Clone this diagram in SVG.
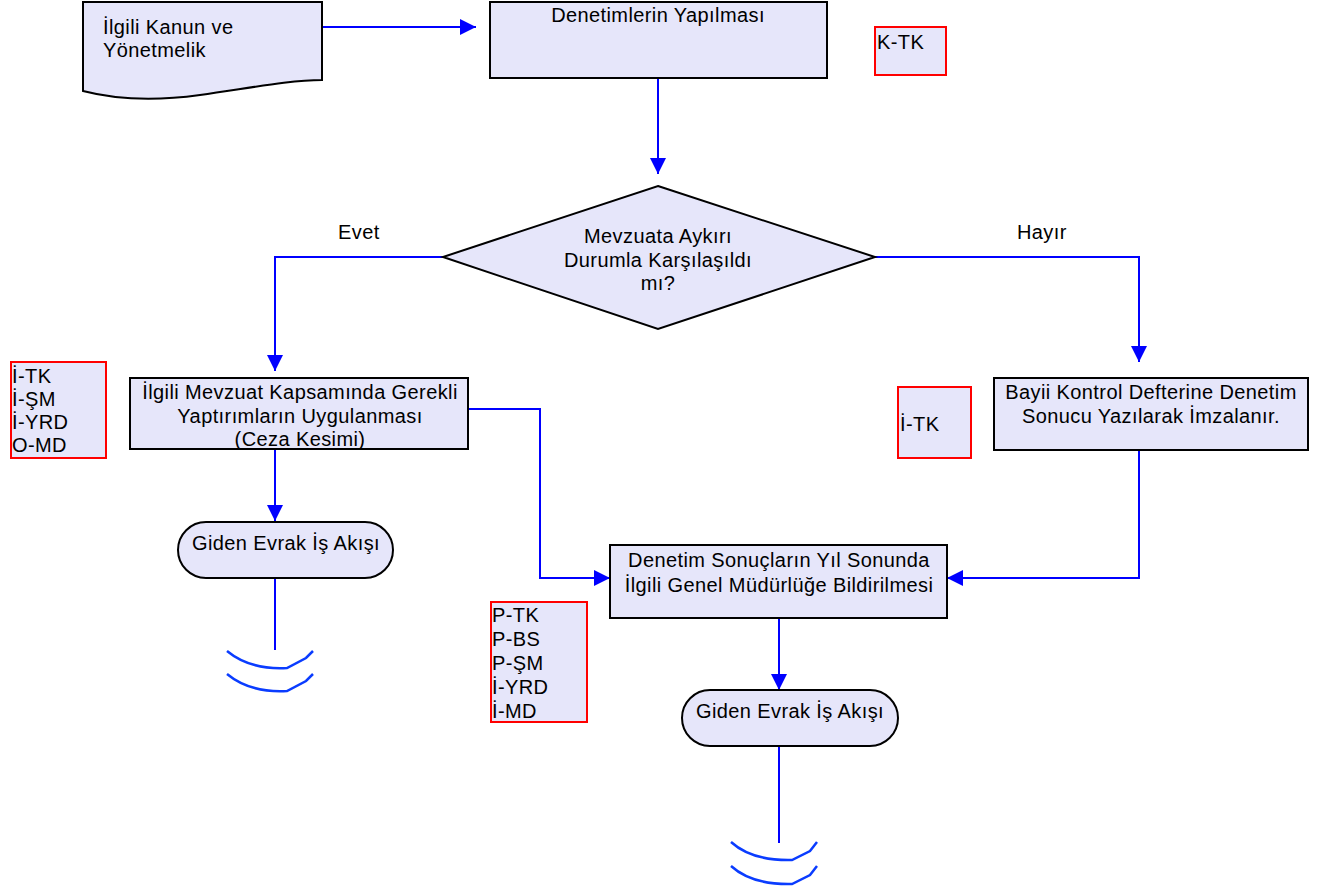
<svg xmlns="http://www.w3.org/2000/svg" width="1327" height="888" viewBox="0 0 1327 888">
<style>
text{font-family:"Liberation Sans",Arial,sans-serif;font-size:20px;letter-spacing:0.4px;fill:#000}
.c{text-anchor:middle}
.box{fill:#E6E6FA;stroke:#000;stroke-width:2}
.red{fill:#E6E6FA;stroke:#FF0000;stroke-width:2}
.ln{fill:none;stroke:#0000FF;stroke-width:2}
.wave{fill:none;stroke:#0A3CFF;stroke-width:2.5}
</style>
<defs>
<marker id="ah" markerUnits="userSpaceOnUse" markerWidth="17" markerHeight="16" refX="16" refY="8" orient="auto">
<path d="M0,0 L16,8 L0,16 z" fill="#0000FF"/>
</marker>
</defs>
<rect width="1327" height="888" fill="#fff"/>
<g id="connectors">
<path class="ln" d="M322,27 H476" marker-end="url(#ah)"/>
<path class="ln" d="M658,78 V174" marker-end="url(#ah)"/>
<path class="ln" d="M443,257 H275 V371" marker-end="url(#ah)"/>
<path class="ln" d="M875,257 H1139 V362" marker-end="url(#ah)"/>
<path class="ln" d="M468,409 H540 V578 H610" marker-end="url(#ah)"/>
<path class="ln" d="M275,449 V521" marker-end="url(#ah)"/>
<path class="ln" d="M1139,450 V578 H947" marker-end="url(#ah)"/>
<path class="ln" d="M779,618 V690" marker-end="url(#ah)"/>
<path class="ln" d="M275,578 V650"/>
<path class="ln" d="M779,745 V843"/>
<path class="wave" d="M227,651 Q250,670 287,668 L306,658 L313,651"/>
<path class="wave" d="M227,674 Q250,693 287,691 L306,681 L313,674"/>
<path class="wave" d="M731,842 Q752,861 792,860 L810,851 L817,842"/>
<path class="wave" d="M731,866 Q752,885 792,884 L810,875 L817,866"/>
</g>
<g id="doc">
<path class="box" d="M83,2 H322 V80 C290,80 250,88 200,95 C150,102 110,98 83,91 Z"/>
<text x="103" y="34">İlgili Kanun ve</text>
<text x="103" y="57">Yönetmelik</text>
</g>
<g id="denetim">
<rect class="box" x="490" y="2" width="337" height="76"/>
<text class="c" x="658" y="22">Denetimlerin Yapılması</text>
</g>
<g id="ktk">
<rect class="red" x="875" y="27" width="71" height="48"/>
<text x="877" y="49">K-TK</text>
</g>
<g id="karar">
<polygon class="box" points="658,186 875,257 658,329 443,257"/>
<text class="c" x="658" y="243">Mevzuata Aykırı</text>
<text class="c" x="658" y="267">Durumla Karşılaşıldı</text>
<text class="c" x="658" y="290">mı?</text>
</g>
<g id="evet"><text x="338" y="239">Evet</text></g>
<g id="hayir"><text x="1017" y="239">Hayır</text></g>
<g id="roles1">
<rect class="red" x="11" y="362" width="95" height="96"/>
<text x="12" y="383">İ-TK</text>
<text x="12" y="406">İ-ŞM</text>
<text x="12" y="429">İ-YRD</text>
<text x="12" y="452">O-MD</text>
</g>
<g id="yaptirim">
<rect class="box" x="130" y="378" width="338" height="71"/>
<text class="c" x="300" y="399">İlgili Mevzuat Kapsamında Gerekli</text>
<text class="c" x="300" y="423">Yaptırımların Uygulanması</text>
<text class="c" x="300" y="446">(Ceza Kesimi)</text>
</g>
<g id="roles2">
<rect class="red" x="898" y="387" width="73" height="71"/>
<text x="900" y="431">İ-TK</text>
</g>
<g id="bayii">
<rect class="box" x="994" y="378" width="314" height="72"/>
<text class="c" x="1151" y="399">Bayii Kontrol Defterine Denetim</text>
<text class="c" x="1151" y="423">Sonucu Yazılarak İmzalanır.</text>
</g>
<g id="giden1">
<rect class="box" x="178" y="522" width="215" height="56" rx="28" ry="28"/>
<text class="c" x="286" y="550">Giden Evrak İş Akışı</text>
</g>
<g id="bildirim">
<rect class="box" x="610" y="545" width="337" height="73"/>
<text class="c" x="779" y="567">Denetim Sonuçların Yıl Sonunda</text>
<text class="c" x="779" y="592">İlgili Genel Müdürlüğe Bildirilmesi</text>
</g>
<g id="roles3">
<rect class="red" x="491" y="602" width="96" height="120"/>
<text x="492" y="622">P-TK</text>
<text x="492" y="646">P-BS</text>
<text x="492" y="670">P-ŞM</text>
<text x="492" y="694">İ-YRD</text>
<text x="492" y="718">İ-MD</text>
</g>
<g id="giden2">
<rect class="box" x="682" y="690" width="216" height="56" rx="28" ry="28"/>
<text class="c" x="790" y="718">Giden Evrak İş Akışı</text>
</g>
</svg>
